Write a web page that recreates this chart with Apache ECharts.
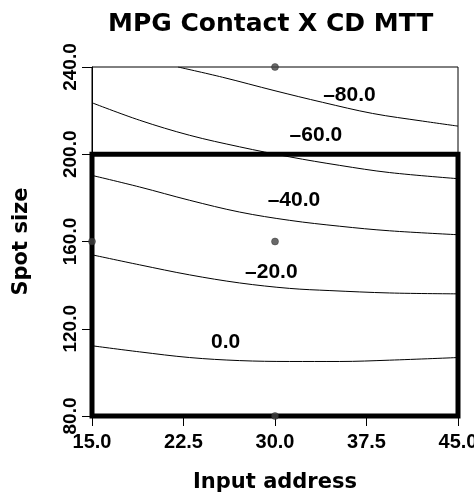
<!DOCTYPE html>
<html>
<head>
<meta charset="utf-8">
<script src="https://cdn.jsdelivr.net/npm/echarts@6/dist/echarts.min.js"></script>
<style>
  html, body { margin: 0; padding: 0; background: #fff; }
  #chart { width: 474px; height: 495px; }
</style>
</head>
<body>
<div id="chart"></div>
<script>
// contour lines: [input address, spot size]
const contourM80 = [[22.05, 240], [25.7, 235.3], [30.0, 229.1], [33.9, 223.8], [38.0, 218.7], [42.1, 215.2], [45, 212.9]];
const contourM60 = [[15, 223.6], [18.9, 215.6], [23.0, 208.7], [27.1, 203.4], [31.2, 198.8], [35.3, 194.9], [39.4, 191.6], [45, 188.8]];
const contourM40 = [[15, 190.3], [18.9, 185.0], [23.0, 178.9], [27.1, 173.5], [31.2, 169.7], [35.3, 167.0], [39.4, 164.9], [45, 163.1]];
const contourM20 = [[15, 153.9], [18.9, 149.3], [23.0, 144.7], [27.1, 141.0], [31.2, 138.5], [34.5, 137.5], [39.4, 136.4], [45, 136.0]];
const contour0 = [[15, 112.2], [18.9, 109.4], [23.0, 106.8], [27.1, 105.4], [31.2, 105.0], [35.3, 105.0], [39.4, 105.6], [45, 106.8]];

// contour labels
const labelText = ['\u201380.0', '\u201360.0', '\u201340.0', '\u201320.0', '0.0'];
const labelX = [36.1, 33.35, 31.55, 29.7, 25.95];
const labelY = [227.2, 208.7, 179.1, 146.1, 114.0];

// design points
const pointX = [30, 15, 30, 30];
const pointY = [240, 160, 160, 80];

// thick design region box corners
const boxX = [15, 45, 45, 15, 15];
const boxY = [200, 200, 80, 80, 200];

const chart = echarts.init(document.getElementById('chart'));

const contourSeries = [contourM80, contourM60, contourM40, contourM20, contour0].map(d => ({
  type: 'line',
  data: d,
  smooth: 0.35,
  symbol: 'none',
  lineStyle: { color: '#000', width: 1 },
  z: 2
}));

const option = {
  animation: false,
  title: {
    text: 'MPG Contact X CD MTT',
    left: 103,
    top: 7,
    textStyle: { fontFamily: 'DejaVu Sans', fontWeight: 'bold', fontSize: 25, color: '#000' }
  },
  grid: {
    left: 92, right: 16, top: 67, bottom: 79,
    outerBoundsMode: 'none',
    containLabel: false,
    show: true, borderColor: '#000', borderWidth: 1
  },
  xAxis: {
    type: 'value',
    min: 15, max: 45, interval: 7.5,
    name: 'Input address',
    nameLocation: 'middle',
    nameGap: 56,
    nameTextStyle: { fontFamily: 'DejaVu Sans', fontWeight: 'bold', fontSize: 21, color: '#000' },
    axisLine: { show: true, lineStyle: { color: '#000', width: 1 } },
    axisTick: { show: true, length: 10, lineStyle: { color: '#000' } },
    splitLine: { show: false },
    axisLabel: {
      margin: 16,
      hideOverlap: false,
      formatter: v => v.toFixed(1),
      fontFamily: 'Liberation Sans', fontWeight: 'bold', fontSize: 20, color: '#000'
    }
  },
  yAxis: {
    type: 'value',
    min: 80, max: 240, interval: 40,
    name: 'Spot size',
    nameLocation: 'middle',
    nameGap: 60,
    nameTextStyle: { fontFamily: 'DejaVu Sans', fontWeight: 'bold', fontSize: 21, color: '#000' },
    axisLine: { show: true, lineStyle: { color: '#000', width: 1 } },
    axisTick: { show: true, length: 10, lineStyle: { color: '#000' } },
    splitLine: { show: false },
    axisLabel: {
      rotate: 90,
      margin: 12,
      hideOverlap: false,
      formatter: v => v.toFixed(1),
      fontFamily: 'Liberation Sans', fontWeight: 'bold', fontSize: 19, color: '#000'
    }
  },
  series: [
    ...contourSeries,
    {
      type: 'line',
      data: boxX.map((x, i) => [x, boxY[i]]),
      symbol: 'none',
      clip: false,
      lineStyle: { color: '#000', width: 5, join: 'miter', cap: 'square' },
      z: 3
    },
    {
      type: 'scatter',
      data: labelX.map((x, i) => ({ value: [x, labelY[i]], name: labelText[i] })),
      symbolSize: 0,
      itemStyle: { color: '#000', opacity: 1 },
      label: {
        show: true,
        position: 'inside',
        formatter: p => p.name,
        textBorderWidth: 0,
        fontFamily: 'Liberation Sans', fontWeight: 'bold', fontSize: 21, color: '#000'
      },
      z: 4
    },
    {
      type: 'scatter',
      data: pointX.map((x, i) => [x, pointY[i]]),
      symbolSize: 7,
      clip: false,
      itemStyle: { color: '#444', borderColor: '#222', borderWidth: 0.5 },
      z: 5
    }
  ]
};

chart.setOption(option);
</script>
</body>
</html>
